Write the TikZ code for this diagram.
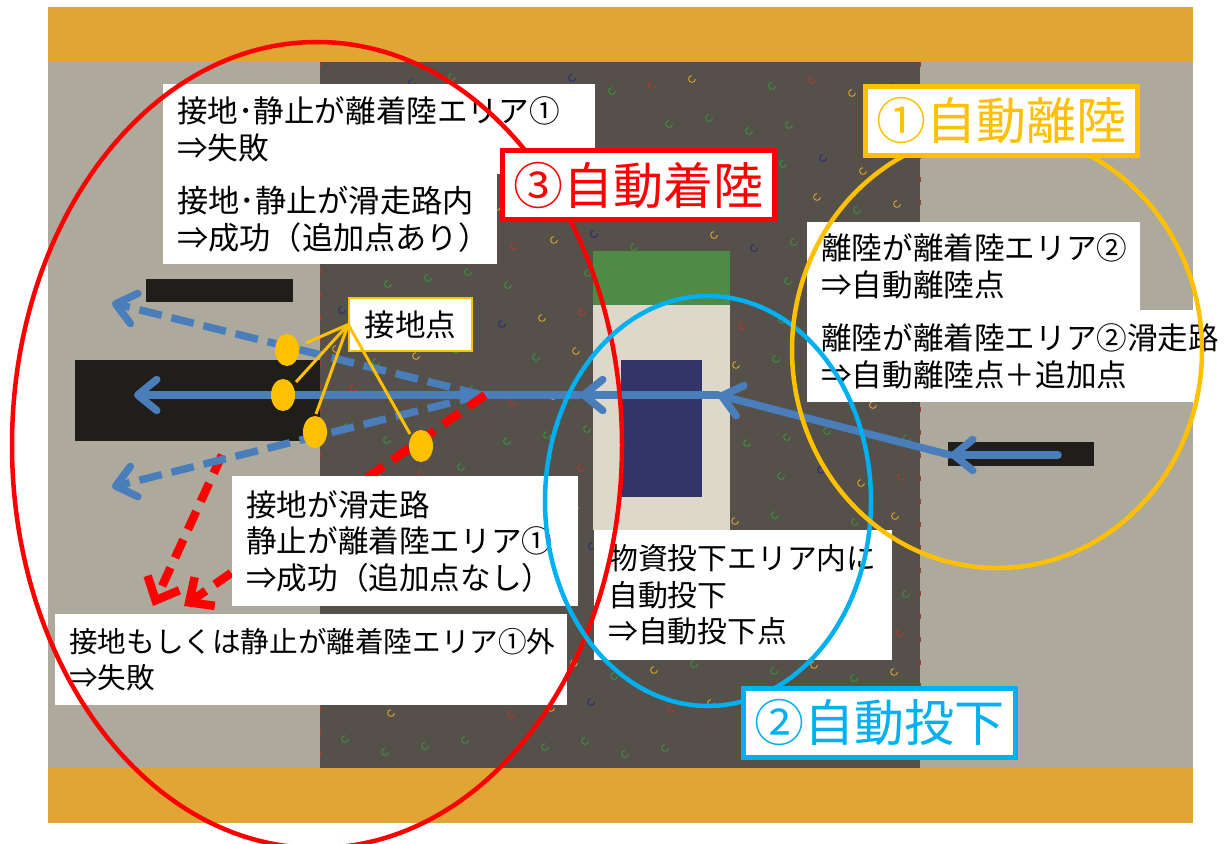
\documentclass[tikz,border=0pt]{standalone}
\usepackage{fontspec}
\newfontfamily\jp{Noto Sans CJK JP}
\usetikzlibrary{arrows.meta,calc,shapes.geometric}
\definecolor{orangeband}{HTML}{E0A535}
\definecolor{greyfield}{HTML}{AEA99D}
\definecolor{darkfield}{HTML}{55514A}
\definecolor{greenarea}{HTML}{4F8B47}
\definecolor{beigearea}{HTML}{DDD8C9}
\definecolor{navyarea}{HTML}{33346A}
\definecolor{blackarea}{HTML}{1F1E1A}
\definecolor{arrowblue}{HTML}{4A7EBB}
\definecolor{yel}{HTML}{FFC000}
\definecolor{cyanline}{HTML}{00B0F0}
\definecolor{speckA}{HTML}{A83A30}
\definecolor{speckB}{HTML}{3E8A3E}
\definecolor{speckC}{HTML}{2C2E70}
\definecolor{speckD}{HTML}{D09A30}
\tikzset{
  x=1pt,y=-1pt,
  every node/.style={font=\jp},
  txt/.style={fill=white,inner sep=0pt,anchor=north west,align=left,font=\jp\fontsize{30.6}{36.5}\selectfont,inner xsep=14pt},
  ttl/.style={fill=white,line width=5pt,anchor=center,inner sep=0pt,minimum width=272pt,minimum height=69pt,font=\jp\fontsize{50}{56}\selectfont},
  solidarrow/.style={draw=arrowblue,line width=7.5pt,line cap=round,-{Straight Barb[length=19pt,width=31pt,line width=7.5pt,round]}},
  dashblue/.style={draw=arrowblue,line width=7.5pt,dash pattern=on 23pt off 10pt,-{Straight Barb[length=19pt,width=31pt,line width=7.5pt,round]}},
  dashred/.style={draw=red,line width=8.5pt,dash pattern=on 20pt off 11pt,-{Straight Barb[length=19pt,width=35pt,line width=8.5pt]}},
  ring/.style={line width=4.5pt},
  dot/.style={fill=yel,ellipse,inner sep=0pt},
  pointer/.style={draw=yel,line width=3pt}
}
\begin{document}
\begin{tikzpicture}
\useasboundingbox (0,0) rectangle (1228,843);
% field
\fill[greyfield] (48,62) rectangle (1193,768);
\fill[darkfield] (320,62) rectangle (920,768);
\fill[orangeband] (48,7) rectangle (1193,62);
\fill[orangeband] (48,768) rectangle (1193,823);
\draw[speckA,line width=.7pt,dash pattern=on 5pt off 18pt] (320,62) -- (320,768);
\draw[speckA,line width=.7pt,dash pattern=on 5pt off 18pt] (920,62) -- (920,768);
% speckles
\foreach \i in {0,...,14}{
  \foreach \j in {0,...,17}{
    \pgfmathtruncatemacro{\cc}{mod(\i*3+\j*5+\i*\j,4)}
    \pgfmathtruncatemacro{\omitspk}{mod(\i*7+\j*11,5)}
    \pgfmathsetmacro{\px}{332+\i*40+mod(\j*17,23)}
    \pgfmathsetmacro{\py}{76+\j*39+mod(\i*13,19)}
    \ifnum\omitspk=0\else
      \ifcase\cc\def\spkcol{speckA}\or\def\spkcol{speckB}\or\def\spkcol{speckC}\or\def\spkcol{speckD}\fi
      \draw[\spkcol,line width=1pt] (\px,\py) ++(3.4,0) arc[start angle=0,end angle=270,radius=3.4];
    \fi
  }
}
% central areas
\fill[greenarea] (593,251) rectangle (730,305);
\fill[beigearea] (593,305) rectangle (730,530);
\fill[navyarea] (621,360) rectangle (702,497);
% runways
\fill[blackarea] (75,360) rectangle (320,441);
\fill[blackarea] (146,279) rectangle (293,302);
\fill[blackarea] (948,442) rectangle (1094,466);
% connector ends
\coordinate (startR) at (1058,455);
\coordinate (liftoff) at (950,455);
\coordinate (dropin) at (718,395);
\coordinate (dropout) at (580,395);
\coordinate (split) at (482,395);
\coordinate (endC) at (134,395);
\coordinate (endU) at (112,303);
\coordinate (endD) at (112,487);
\coordinate (redA) at (485,395);
\coordinate (redAend) at (184,606);
\coordinate (redB) at (222,455);
\coordinate (redBend) at (153,606);
% red dashed
\draw[dashred] (redA) -- (redAend);
\draw[dashred] (redB) -- (redBend);
% blue paths
\draw[solidarrow] (startR) -- (liftoff);
\draw[solidarrow] (liftoff) -- (dropin);
\draw[solidarrow] (dropin) -- (dropout);
\draw[solidarrow] (dropout) -- (endC);
\draw[dashblue] (split) -- (endU);
\draw[dashblue] (split) -- (endD);
% red start over the centre line
\draw[red,line width=8.5pt] (redA) -- ($(redA)!20pt!(redAend)$);
% text boxes
\node[txt,text width=404pt,minimum height=90pt] (t1) at (163,84) {接地･静止が離着陸エリア①\\⇒失敗};
\node[txt,text width=306pt,minimum height=90pt,font=\jp\fontsize{31.2}{37}\selectfont] (t2) at (163,174) {接地･静止が滑走路内\\⇒成功（追加点あり）};
\node[txt,text width=318pt,minimum height=130pt] (t3) at (232,476) {接地が滑走路\\静止が離着陸エリア①\\⇒成功（追加点なし）};
\node[txt,text width=484pt,minimum height=91pt,font=\jp\fontsize{28.6}{36.5}\selectfont] (t4) at (55,614) {接地もしくは静止が離着陸エリア①外\\⇒失敗};
\node[txt,text width=270pt,minimum height=130pt,font=\jp\fontsize{29.8}{36.5}\selectfont] (t5) at (594,530) {物資投下エリア内に\\自動投下\\⇒自動投下点};
\node[txt,text width=305pt,minimum height=88pt] (t6) at (807,222) {離陸が離着陸エリア②\\⇒自動離陸点};
\node[txt,text width=358pt,minimum height=92pt] (t7) at (807,310) {離陸が離着陸エリア②滑走路\\⇒自動離陸点＋追加点};
% touchdown label and points
\node[draw=yel,fill=white,line width=1.6pt,minimum width=123pt,minimum height=53pt,inner sep=0pt,font=\jp\fontsize{30.6}{34}\selectfont] (tp) at (410.5,324.5) {接地点};
\node[dot,minimum width=24pt,minimum height=32pt] (p1) at (287,350) {};
\node[dot,minimum width=24pt,minimum height=32pt] (p2) at (283,395) {};
\node[dot,minimum width=24pt,minimum height=32pt] (p3) at (315,432) {};
\node[dot,minimum width=24pt,minimum height=32pt] (p4) at (421,446) {};
\draw[pointer] (tp.west) -- (306,343);
\draw[pointer] (tp.west) -- (296,382);
\draw[pointer] (tp.west) -- (316,414);
\draw[pointer] (tp.west) -- (410,434);
% zones
\draw[ring,red] (317,445) ellipse [x radius=305,y radius=403];
\draw[ring,cyanline] (708,501) ellipse [x radius=163,y radius=205];
\draw[ring,yel] (997,350) ellipse [x radius=205,y radius=218];
% titles
\node[ttl,draw=yel,text=yel] (a) at (1001,120.5) {①自動離陸};
\node[ttl,draw=red,text=red] (c) at (638,185) {③自動着陸};
\node[ttl,draw=cyanline,text=cyanline] (b) at (879,722.5) {②自動投下};
\end{tikzpicture}
\end{document}
